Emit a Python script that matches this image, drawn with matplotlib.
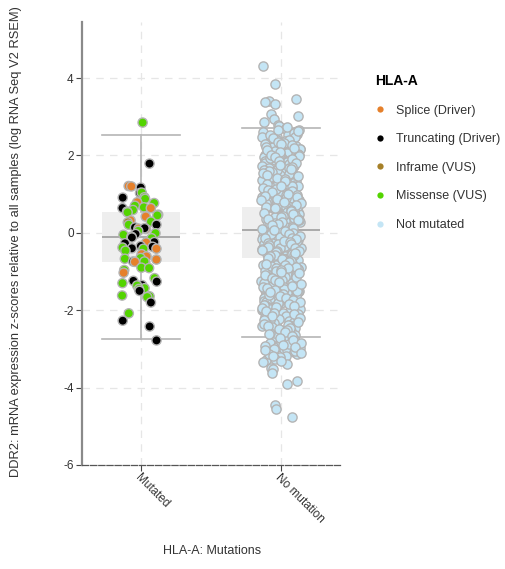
import matplotlib
matplotlib.use("Agg")
import matplotlib.pyplot as plt
from matplotlib.lines import Line2D
import numpy as np

plt.rcParams['font.family'] = ['Liberation Sans', 'DejaVu Sans']

# ---- data -------------------------------------------------------------
categories = ["Mutated", "No mutation"]

# mutated samples: z-score and mutation class
mutated_values = [
    2.85, 1.79, 1.21, 1.20, 1.17, 1.03, 1.04, 0.91, 0.92, 0.88, 0.79, 0.77,
    0.70, 0.66, 0.64, 0.64, 0.59, 0.55, 0.53, 0.47, 0.42, 0.45, 0.32, 0.29,
    0.27, 0.21, 0.21, 0.14, 0.11, 0.10, 0.12, 0.05, -0.01, -0.03, -0.05,
    -0.10, -0.12, -0.14, -0.24, -0.25, -0.27, -0.34, -0.36, -0.40, -0.41,
    -0.41, -0.38, -0.46, -0.55, -0.61, -0.65, -0.67, -0.69, -0.74, -0.75,
    -0.77, -0.74, -0.90, -0.91, -0.96, -1.03, -1.17, -1.24, -1.26, -1.30,
    -1.35, -1.36, -1.43, -1.45, -1.50, -1.62, -1.64, -1.66, -1.80, -2.08,
    -2.27, -2.42, -2.78,
]
mutated_types = [
    "M", "T", "S", "S", "T", "T", "M", "T", "M", "M", "S", "M",
    "M", "M", "S", "T", "M", "M", "M", "M", "S", "M", "S", "M",
    "I", "T", "M", "T", "S", "S", "T", "M", "M", "T", "M",
    "M", "T", "M", "T", "S", "T", "T", "T", "T", "S",
    "M", "M", "M", "S", "S", "M", "M", "S", "T", "S",
    "M", "M", "M", "M", "M", "S", "M", "T", "T", "M",
    "T", "M", "M", "M", "T", "M", "M", "M", "T", "M",
    "T", "T", "T",
]

# samples without an HLA-A mutation
not_mutated_values = [
    4.30, 3.85, 3.45, 3.42, 3.38, 3.33, 3.08, 3.01, 2.93, 2.86, 2.80, 2.76,
    2.71, 2.68, 2.66, 2.63, 2.61, 2.59, 2.56, 2.53, 2.51, 2.49, 2.47, 2.44,
    2.41, 2.39, 2.38, 2.35, 2.32, 2.30, 2.27, 2.25, 2.24, 2.21, 2.18, 2.16,
    2.14, 2.11, 2.09, 2.07, 2.04, 2.02, 2.00, 1.97, 1.95, 1.93, 1.90, 1.88,
    1.86, 1.84, 1.81, 1.79, 1.77, 1.74, 1.72, 1.70, 1.67, 1.65, 1.63, 1.61,
    1.58, 1.56, 1.54, 1.51, 1.49, 1.47, 1.44, 1.42, 1.40, 1.38, 1.35, 1.33,
    1.31, 1.28, 1.26, 1.24, 1.21, 1.19, 1.17, 1.15, 1.12, 1.10, 1.08, 1.05,
    1.03, 1.01, 0.99, 0.97, 0.95, 0.93, 0.91, 0.89, 0.87, 0.85, 0.83, 0.81,
    0.79, 0.77, 0.75, 0.73, 0.71, 0.69, 0.67, 0.65, 0.63, 0.61, 0.59, 0.57,
    0.55, 0.53, 0.51, 0.49, 0.47, 0.45, 0.43, 0.41, 0.39, 0.37, 0.35, 0.33,
    0.31, 0.29, 0.27, 0.25, 0.23, 0.21, 0.19, 0.17, 0.15, 0.13, 0.11, 0.09,
    0.07, 0.05, 0.03, 0.01, -0.01, -0.03, -0.05, -0.07, -0.09, -0.11, -0.13,
    -0.15, -0.17, -0.19, -0.21, -0.23, -0.25, -0.27, -0.29, -0.31, -0.33,
    -0.35, -0.37, -0.39, -0.41, -0.43, -0.45, -0.47, -0.49, -0.51, -0.53,
    -0.55, -0.57, -0.59, -0.61, -0.63, -0.65, -0.67, -0.69, -0.71, -0.73,
    -0.75, -0.77, -0.79, -0.81, -0.83, -0.85, -0.87, -0.89, -0.91, -0.93,
    -0.95, -0.97, -0.99, -1.02, -1.04, -1.06, -1.09, -1.11, -1.13, -1.16,
    -1.18, -1.20, -1.23, -1.25, -1.27, -1.30, -1.32, -1.34, -1.37, -1.39,
    -1.41, -1.44, -1.46, -1.48, -1.51, -1.53, -1.55, -1.58, -1.60, -1.62,
    -1.65, -1.67, -1.69, -1.72, -1.74, -1.76, -1.79, -1.81, -1.83, -1.86,
    -1.88, -1.90, -1.93, -1.95, -1.97, -2.00, -2.02, -2.05, -2.07, -2.10,
    -2.12, -2.15, -2.17, -2.20, -2.22, -2.25, -2.27, -2.30, -2.32, -2.35,
    -2.37, -2.40, -2.42, -2.45, -2.47, -2.50, -2.52, -2.55, -2.57, -2.60,
    -2.62, -2.65, -2.67, -2.70, -2.73, -2.76, -2.79, -2.82, -2.85, -2.88,
    -2.91, -2.94, -2.97, -3.00, -3.04, -3.08, -3.12, -3.17, -3.22, -3.28,
    -3.34, -3.40, -3.49, -3.51, -3.62, -3.84, -3.90, -4.44, -4.56, -4.77,
    2.74, 2.65, 2.57, 2.48, 2.40, 2.33, 2.26, 2.19, 2.12, 2.05, 1.99, 1.94,
    1.89, 1.83, 1.78, 1.73, 1.68, 1.62, 1.57, 1.52, 1.46, 1.41, 1.36, 1.30,
    1.25, 1.20, 1.14, 1.09, 1.04, 0.98, 0.94, 0.90, 0.86, 0.82, 0.78, 0.74,
    0.70, 0.66, 0.62, 0.58, 0.54, 0.50, 0.46, 0.42, 0.38, 0.34, 0.30, 0.26,
    0.22, 0.18, 0.14, 0.10, 0.06, 0.02, -0.02, -0.06, -0.10, -0.14, -0.18,
    -0.22, -0.26, -0.30, -0.34, -0.38, -0.42, -0.46, -0.50, -0.54, -0.58,
    -0.62, -0.66, -0.70, -0.74, -0.78, -0.82, -0.86, -0.90, -0.94, -0.98,
    -1.03, -1.08, -1.13, -1.19, -1.24, -1.29, -1.35, -1.40, -1.45, -1.50,
    -1.56, -1.61, -1.66, -1.71, -1.77, -1.82, -1.87, -1.92, -1.98, -2.03,
    -2.09, -2.14, -2.19, -2.24, -2.29, -2.34, -2.39, -2.44, -2.49, -2.54,
    -2.59, -2.64, -2.69, -2.75, -2.81, -2.87, -2.93, -2.99, -3.06, -3.14,
    -3.25,
    2.62, 2.53, 2.44, 2.36, 2.29, 2.22, 2.15, 2.08, 2.02, 1.96, 1.91, 1.86,
    1.80, 1.75, 1.70, 1.64, 1.59, 1.54, 1.49, 1.43, 1.38, 1.33, 1.27, 1.22,
    1.17, 1.11, 1.06, 1.00, 0.96, 0.92, 0.88, 0.84, 0.80, 0.76, 0.72, 0.68,
    0.64, 0.60, 0.56, 0.52, 0.48, 0.44, 0.40, 0.36, 0.32, 0.28, 0.24, 0.20,
    0.16, 0.12, 0.08, 0.04, 0.00, -0.04, -0.08, -0.12, -0.16, -0.20, -0.24,
    -0.28, -0.32, -0.36, -0.40, -0.44, -0.48, -0.52, -0.56, -0.60, -0.64,
    -0.68, -0.72, -0.76, -0.80, -0.84, -0.88, -0.92, -0.96, -1.00, -1.05,
    -1.10, -1.16, -1.21, -1.26, -1.32, -1.37, -1.42, -1.48, -1.53, -1.58,
    -1.63, -1.69, -1.74, -1.79, -1.84, -1.90, -1.95, -2.01, -2.06, -2.11,
    -2.16, -2.21, -2.26, -2.31, -2.36, -2.41, -2.46, -2.51, -2.56, -2.61,
    -2.66, -2.72, -2.78, -2.84, -2.90, -2.96, -3.02, -3.10, -3.19, -3.31,
]

# box summaries: median, quartiles, whisker ends
box_median = [-0.10, 0.08]
box_q1 = [-0.75, -0.65]
box_q3 = [0.54, 0.67]
box_whislo = [-2.74, -2.69]
box_whishi = [2.53, 2.71]

type_labels = {
    "S": "Splice (Driver)",
    "T": "Truncating (Driver)",
    "I": "Inframe (VUS)",
    "M": "Missense (VUS)",
    "N": "Not mutated",
}
type_colors = {
    "S": "#e5802b",
    "T": "#000000",
    "I": "#a68028",
    "M": "#53d400",
    "N": "#c4e5f5",
}

# ---- figure -----------------------------------------------------------
W, H = 506, 569
fig = plt.figure(figsize=(W / 100, H / 100), dpi=100)
ax = fig.add_axes([82 / W, 1 - 465 / H, (340 - 82) / W, (465 - 22) / H])

ax.set_xlim(-0.42, 1.42)
ax.set_ylim(-6, 5.45)

# dashed grid
for yv in [-4, -2, 0, 2, 4]:
    ax.axhline(yv, color="#e6e6e6", lw=0.9, ls=(0, (6, 5)), zorder=0)
for xv in [0, 1]:
    ax.axvline(xv, color="#e6e6e6", lw=0.9, ls=(0, (6, 5)), zorder=0)

# boxes
stats = []
for i in range(2):
    stats.append(dict(med=box_median[i], q1=box_q1[i], q3=box_q3[i],
                      whislo=box_whislo[i], whishi=box_whishi[i], fliers=[]))
ax.bxp(stats, positions=[0, 1], widths=0.56, patch_artist=True,
       showfliers=False, capwidths=0.56,
       boxprops=dict(facecolor="#eeeeee", edgecolor="none"),
       medianprops=dict(color="#aaaaaa", lw=1.4),
       whiskerprops=dict(color="#b5b5b5", lw=1.2),
       capprops=dict(color="#b5b5b5", lw=1.2),
       zorder=1)


def jitter(n, width, seed):
    # deterministic hash-based horizontal spread within the strip
    k = np.arange(n) + seed
    frac = np.modf(np.abs(np.sin(k * 12.9898 + 78.233) * 43758.5453))[0]
    return (frac - 0.5) * 2 * width


# points
mv = np.array(mutated_values)
mx = 0 + jitter(len(mv), 0.135, 3)
mc = [type_colors[t] for t in mutated_types]
nv = np.array(not_mutated_values)
nx = 1 + jitter(len(nv), 0.14, 101)

ax.scatter(nx, nv, s=44, c=type_colors["N"], edgecolors="#b4b4b4",
           linewidths=1.0, zorder=3)
ax.scatter(mx, mv, s=44, c=mc, edgecolors="#b4b4b4", linewidths=1.0,
           zorder=3)

# axes styling
for side in ["top", "right"]:
    ax.spines[side].set_visible(False)
ax.spines["left"].set_color("#8a8a8a")
ax.spines["left"].set_linewidth(1.6)
ax.spines["bottom"].set_color("#555555")
ax.spines["bottom"].set_linewidth(0.9)
ax.spines["bottom"].set_linestyle((0, (5, 1.5)))

ax.set_yticks([-6, -4, -2, 0, 2, 4])
ax.set_yticklabels(["-6", "-4", "-2", "0", "2", "4"])
ax.tick_params(axis="y", length=4, width=0.8, color="#444444",
               labelsize=8.5, labelcolor="#333333", pad=2)
ax.set_xticks([0, 1])
ax.set_xticklabels(categories, rotation=-45, ha="left", va="top",
                   rotation_mode="anchor")
ax.tick_params(axis="x", length=4, width=0.8, color="#444444",
               labelsize=8.5, labelcolor="#333333", pad=1)

fig.text(212 / W, 1 - 551 / H, "HLA-A: Mutations", ha="center",
         va="center", fontsize=9, color="#333333")
fig.text(16 / W, 1 - 242 / H,
         "DDR2: mRNA expression z-scores relative to all samples "
         "(log RNA Seq V2 RSEM)",
         ha="center", va="center", rotation=90, fontsize=9.3,
         color="#333333")

# legend
order = ["S", "T", "I", "M", "N"]
handles = [Line2D([], [], ls="none", marker="o", markersize=4.5,
                  markerfacecolor=type_colors[t], markeredgecolor="none")
           for t in order]
leg = fig.legend(handles, [type_labels[t] for t in order],
                 loc="upper left", bbox_to_anchor=(375 / W, 1 - 74 / H),
                 frameon=False, fontsize=9, title="HLA-A",
                 title_fontproperties=dict(weight="bold", size=10),
                 alignment="left", handlelength=0.8, handletextpad=0.9,
                 labelspacing=1.33, borderpad=0, borderaxespad=0)
for t in leg.get_texts():
    t.set_color("#333333")

fig.savefig("out.png", dpi=100)
